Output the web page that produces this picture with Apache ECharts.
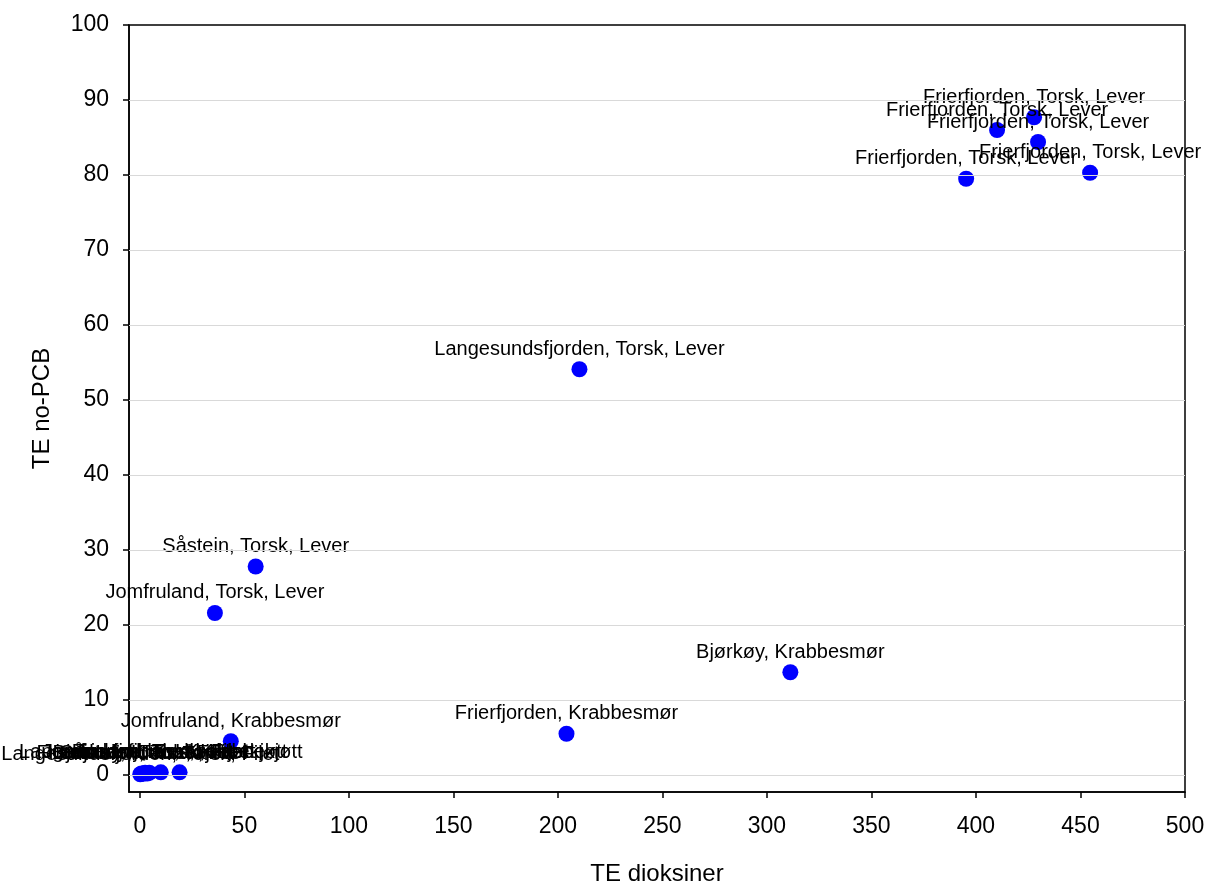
<!DOCTYPE html>
<html>
<head>
<meta charset="utf-8">
<script src="https://cdn.jsdelivr.net/npm/echarts@6/dist/echarts.min.js"></script>
<style>html,body{margin:0;padding:0;background:#fff;overflow:hidden}#c{width:1209px;height:883px}</style>
</head>
<body>
<div id="c"></div>
<script>
// Data
const pointLabels = [
  "Frierfjorden, Torsk, Lever",
  "Frierfjorden, Torsk, Lever",
  "Frierfjorden, Torsk, Lever",
  "Frierfjorden, Torsk, Lever",
  "Frierfjorden, Torsk, Lever",
  "Langesundsfjorden, Torsk, Lever",
  "Såstein, Torsk, Lever",
  "Jomfruland, Torsk, Lever",
  "Bjørkøy, Krabbesmør",
  "Frierfjorden, Krabbesmør",
  "Jomfruland, Krabbesmør",
  "Langesundsfjorden, Torsk, Filet",
  "Frierfjorden, Torsk, Filet",
  "Bjørkøy, Krabbekjøtt",
  "Jomfruland, Torsk, Filet",
  "Såstein, Torsk, Filet",
  "Jomfruland, Krabbekjøtt",
  "Langesundsfjorden, Krabbekjøtt",
  "Frierfjorden, Krabbekjøtt"
];
const teDioksiner = [427.8, 410.1, 429.7, 454.6, 395.3, 210.3, 55.4, 35.9, 311.2, 204.1, 43.5, 0.2, 0.8, 1.5, 2.5, 3.5, 4.5, 10.0, 19.0];
const teNoPCB =     [87.7, 86.0, 84.4, 80.3, 79.5, 54.1, 27.8, 21.6, 13.7, 5.5, 4.5, 0.1, 0.2, 0.15, 0.3, 0.2, 0.3, 0.35, 0.35];
const xTicks = [0, 50, 100, 150, 200, 250, 300, 350, 400, 450, 500];
const yTicks = [0, 10, 20, 30, 40, 50, 60, 70, 80, 90, 100];
const yGridLines = [0, 10, 20, 30, 40, 50, 60, 70, 80, 90];

const FONT = "'Liberation Sans', Arial, sans-serif";
const chart = echarts.init(document.getElementById('c'), null, {renderer: 'canvas', width: 1209, height: 883});
const pts = teDioksiner.map((x, i) => [x, teNoPCB[i], pointLabels[i]]);

chart.setOption({
  animation: false,
  backgroundColor: '#fff',
  grid: {left: 129, top: 25, width: 1056, height: 767, show: true, borderColor: '#000', borderWidth: 1.5,
         containLabel: false, outerBoundsMode: 'none'},
  xAxis: {
    type: 'value', min: -5.2, max: 500,
    name: 'TE dioksiner', nameLocation: 'middle', nameGap: 70,
    nameTextStyle: {fontFamily: FONT, fontSize: 24, color: '#000'},
    axisLine: {show: true, onZero: false, lineStyle: {color: '#000', width: 1.5}},
    axisTick: {show: true, inside: false, length: 6, customValues: xTicks, lineStyle: {color: '#000', width: 1.5}},
    axisLabel: {customValues: xTicks, margin: 23, fontFamily: FONT, fontSize: 23, color: '#000'},
    splitLine: {show: false}
  },
  yAxis: {
    type: 'value', min: -2.27, max: 100,
    name: 'TE no-PCB', nameLocation: 'middle', nameGap: 75, nameRotate: 90,
    nameTextStyle: {fontFamily: FONT, fontSize: 24, color: '#000'},
    axisLine: {show: true, onZero: false, lineStyle: {color: '#000', width: 1.5}},
    axisTick: {show: true, inside: false, length: 6, customValues: yTicks, lineStyle: {color: '#000', width: 1.5}},
    axisLabel: {customValues: yTicks, margin: 20, fontFamily: FONT, fontSize: 23, color: '#000'},
    splitLine: {show: false}
  },
  series: [{
    type: 'scatter',
    data: pts,
    symbol: 'circle',
    symbolSize: 16,
    itemStyle: {color: '#0000ff', opacity: 1},
    emphasis: {disabled: true},
    label: {
      show: true, position: 'top', distance: 2,
      formatter: p => p.data[2],
      fontFamily: FONT, fontSize: 20, color: '#000', opacity: 1
    },
    labelLayout: {hideOverlap: false},
    markLine: {
      silent: true, symbol: 'none', label: {show: false},
      lineStyle: {color: '#d9d9d9', width: 1, type: 'solid'},
      data: yGridLines.map(v => ({yAxis: v}))
    },
    z: 3
  }]
});
</script>
</body>
</html>
